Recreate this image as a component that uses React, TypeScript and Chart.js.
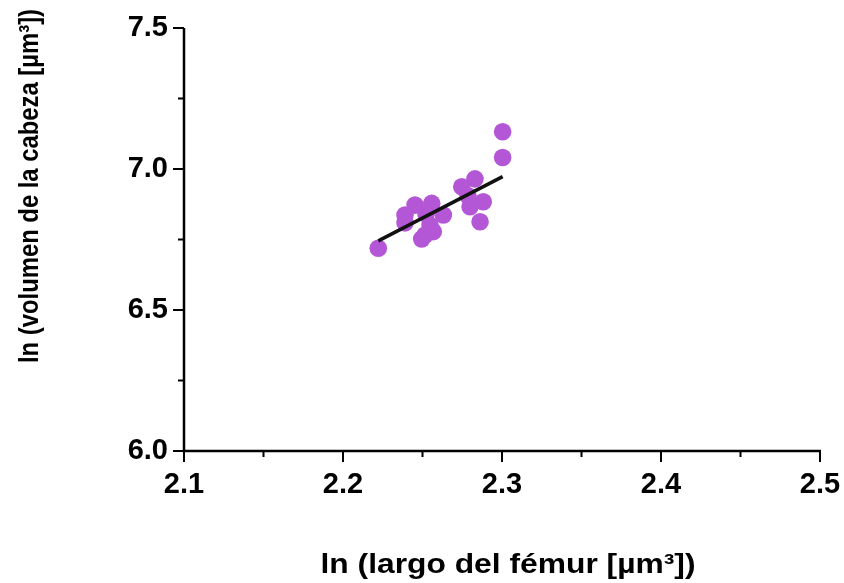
import { useEffect, useRef } from "react";
import { Chart, registerables } from "chart.js";

Chart.register(...registerables);

// ln(femur length) vs ln(head volume)
const femurLn = [
  2.3004, 2.3004, 2.2222, 2.283, 2.2747, 2.2882, 2.2799, 2.2862, 2.2786,
  2.2453, 2.2558, 2.239, 2.2631, 2.2495, 2.2568, 2.239, 2.2522, 2.2516, 2.2547,
];
const headLn = [
  7.132, 7.041, 6.719, 6.965, 6.937, 6.884, 6.866, 6.813, 6.905,
  6.872, 6.878, 6.837, 6.837, 6.752, 6.778, 6.809, 6.84, 6.766, 6.801,
];
// regression line endpoints
const fitX = [2.2222, 2.3004];
const fitY = [6.745, 6.973];

const xTicks = [2.1, 2.2, 2.3, 2.4, 2.5];
const xMinorTicks = [2.15, 2.25, 2.35, 2.45];
const yTicks = [6.0, 6.5, 7.0, 7.5];
const yMinorTicks = [6.25, 6.75, 7.25];

const xTitle = "ln (largo del fémur [µm³])";
const yTitle = "ln (volumen de la cabeza [µm³])";

const FONT = "'Liberation Sans', Arial, sans-serif";

const axesPlugin = {
  id: "gpAxes",
  afterDraw(chart: any) {
    const ctx = chart.ctx as CanvasRenderingContext2D;
    const xs = chart.scales.x;
    const ys = chart.scales.y;
    const left = xs.getPixelForValue(xTicks[0]);
    const right = xs.getPixelForValue(xTicks[xTicks.length - 1]);
    const bottom = ys.getPixelForValue(yTicks[0]);
    const top = ys.getPixelForValue(yTicks[yTicks.length - 1]);
    ctx.save();
    ctx.strokeStyle = "#000";
    ctx.lineCap = "butt";
    // axis lines
    ctx.lineWidth = 2.5;
    ctx.beginPath();
    ctx.moveTo(left, top);
    ctx.lineTo(left, bottom);
    ctx.moveTo(left - 1.25, bottom);
    ctx.lineTo(right + 1, bottom);
    ctx.stroke();
    // ticks
    ctx.lineWidth = 2;
    ctx.beginPath();
    xTicks.forEach((v) => {
      const p = xs.getPixelForValue(v);
      ctx.moveTo(p, bottom);
      ctx.lineTo(p, bottom + 11);
    });
    xMinorTicks.forEach((v) => {
      const p = xs.getPixelForValue(v);
      ctx.moveTo(p, bottom);
      ctx.lineTo(p, bottom + 6);
    });
    yTicks.forEach((v) => {
      const p = ys.getPixelForValue(v);
      ctx.moveTo(left, p);
      ctx.lineTo(left - 11, p);
    });
    yMinorTicks.forEach((v) => {
      const p = ys.getPixelForValue(v);
      ctx.moveTo(left, p);
      ctx.lineTo(left - 6, p);
    });
    ctx.stroke();

    // titles
    ctx.fillStyle = "#000";
    ctx.font = `bold 28px ${FONT}`;
    ctx.textAlign = "center";
    ctx.textBaseline = "alphabetic";
    // x title
    const wx = ctx.measureText(xTitle).width;
    ctx.save();
    ctx.translate((left + right) / 2 + 6, 573);
    ctx.scale(375 / wx, 1);
    ctx.fillText(xTitle, 0, 0);
    ctx.restore();
    // y title
    const wy = ctx.measureText(yTitle).width;
    ctx.save();
    ctx.translate(38, 186);
    ctx.rotate(-Math.PI / 2);
    ctx.scale(354 / wy, 1);
    ctx.fillText(yTitle, 0, 0);
    ctx.restore();
    ctx.restore();
  },
};

export default function App() {
  const ref = useRef<HTMLCanvasElement | null>(null);
  useEffect(() => {
    if (!ref.current) return;
    const chart = new Chart(ref.current, {
      type: "scatter",
      data: {
        datasets: [
          {
            type: "line",
            label: "fit",
            data: fitX.map((x, i) => ({ x, y: fitY[i] })),
            borderColor: "#111",
            borderWidth: 3.5,
            pointRadius: 0,
            fill: false,
            order: 0,
          } as any,
          {
            label: "data",
            data: femurLn.map((x, i) => ({ x, y: headLn[i] })),
            backgroundColor: "#B457D6",
            borderWidth: 0,
            pointRadius: 8.8,
            order: 1,
          },
        ],
      },
      options: {
        responsive: false,
        animation: false,
        layout: { padding: { left: 0, right: 24, top: 28, bottom: 0 } },
        plugins: {
          legend: { display: false },
          tooltip: { enabled: false },
        },
        scales: {
          x: {
            type: "linear",
            min: 2.1,
            max: 2.5,
            grid: { display: false, drawTicks: false },
            border: { display: false },
            afterBuildTicks: (s: any) => {
              s.ticks = xTicks.map((v) => ({ value: v }));
            },
            afterFit: (s: any) => {
              s.height = 132;
              s.paddingLeft = 0;
              s.paddingRight = 0;
            },
            ticks: {
              color: "#000",
              padding: 17,
              maxRotation: 0,
              font: { family: FONT, size: 29, weight: "bold" },
              callback: (v: any) => Number(v).toFixed(1),
            },
          },
          y: {
            type: "linear",
            min: 6.0,
            max: 7.5,
            grid: { display: false, drawTicks: false },
            border: { display: false },
            afterBuildTicks: (s: any) => {
              s.ticks = yTicks.map((v) => ({ value: v }));
            },
            afterFit: (s: any) => {
              s.width = 184;
              s.paddingTop = 0;
              s.paddingBottom = 0;
            },
            ticks: {
              color: "#000",
              padding: 16,
              font: { family: FONT, size: 29, weight: "bold" },
              callback: (v: any) => Number(v).toFixed(1),
            },
          },
        },
      },
      plugins: [axesPlugin],
    });
    return () => chart.destroy();
  }, []);
  return (
    <div style={{ position: "absolute", left: 0, top: 0, width: 844, height: 583, background: "#fff" }}>
      <canvas ref={ref} width={844} height={583} />
    </div>
  );
}
